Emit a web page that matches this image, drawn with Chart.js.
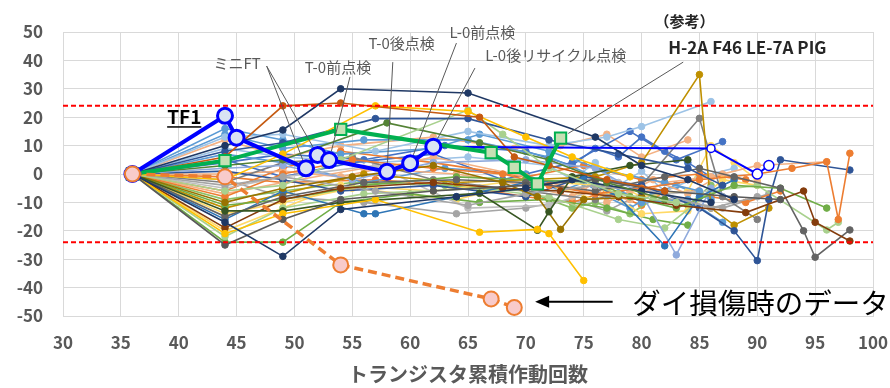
<!DOCTYPE html>
<html>
<head>
<meta charset="utf-8">
<script src="https://cdn.jsdelivr.net/npm/chart.js@4"></script>
<style>
  body { margin: 0; background: #fff; }
  #wrap { width: 890px; height: 388px; }
</style>
</head>
<body>
<div id="wrap"><canvas id="cyclechart" width="890" height="388"></canvas></div>
<script>
// highlighted runs
const tf1 = [[36,0],[44,20.5],[45,12.8],[51,2],[52,6.7],[53,4.9],[58,0.8],[60,3.8],[62,9.6]];
const tf1Tail = [[62,9.6],[86,9],[90,0],[91,3]];
const pig = [[36,0],[44,4.7],[54,15.7],[67,7.5],[69,2.3],[71,-3.5],[73,12.6]];
const dieDamage = [[36,0],[44,-1],[54,-32],[67,-44],[69,-47]];

// allowable band
const limitHigh = 24;
const limitLow = -24;

// other units
const lot01 = [[36,0],[44,10],[49,15.5],[54,30],[65,28.5],[76,13],[80,3],[84,-2],[88,-9]];
const lot02 = [[36,0],[44,6],[49,24],[54,25],[66,20],[69,6],[72,3],[77,-2],[82,-6]];
const lot03 = [[36,0],[44,-2],[49,7],[57,24],[65,22],[70,13],[74,6],[79,-1]];
const lot04 = [[36,0],[44,8],[49,11],[57,19.5],[65,19.5],[72,12],[78,7],[84,2],[87,-4]];
const lot05 = [[36,0],[44,-6],[49,-4],[54,5],[65,22.5],[68,14],[72,2],[78,-7],[83,-10]];
const lot06 = [[36,0],[44,3],[49,5],[58,18],[66,11],[72,5],[77,-3],[82,-9]];
const lot07 = [[36,0],[44,-17],[49,-29],[54,-12.5],[64,-8],[70,-5],[74,-2],[80,-6],[86,-10]];
const lot08 = [[36,0],[44,-25],[49,-16],[54,-9],[62,-6],[70,-4],[76,-2],[82,-6],[88,-8],[92,-9]];
const lot09 = [[36,0],[44,-21],[49,-14],[57,-9],[66,-20.5],[71,-19.5],[72,-21],[75,-37.5]];
const lot10 = [[36,0],[44,-13],[49,-13],[54,-10],[66,-6.8],[71,-19.8],[72,-13.3],[74,-1],[79,3],[84,5]];
const lot11 = [[36,0],[44,-10],[49,-5],[55,-1],[62,3],[68,-3],[71,-8],[73,-19.5],[75,-9],[80,-8]];
const lot12 = [[36,0],[44,-19],[49,-9],[54,-5],[62,-3],[68,-5],[73,-6],[78,-8],[83,-11],[89,-13.6],[94,-6],[95,-17],[98,-23.6]];
const lot13 = [[36,0],[44,-4],[49,-1],[57,-6],[65,-11],[70,-7],[76,-4],[82,-7],[86,-12],[90,-8]];
const lot14 = [[36,0],[44,-15],[49,-8],[56,-3],[64,-2],[70,-3],[76,-6],[82,-1],[85,2],[88,-1],[92,-5],[94,-20],[95,-29.3],[98,-19.7]];
const lot15 = [[36,0],[44,-11],[49,-9],[56,-4],[64,-1],[70,-2],[76,-3],[79,-8],[83,-12],[88,-4],[92,-5],[96,-12]];
const lot16 = [[36,0],[44,-8],[49,0],[55,5],[62,2],[68,0],[72,-4],[76,-7],[80,-5],[85,-2],[90,0],[93,2],[96,4.3],[97,-16],[98,7.3]];
const lot17 = [[36,0],[44,-16],[49,-6],[56,-14],[57,-14],[64,-8],[70,-3],[75,-2],[78,-8],[82,-25.3],[85,-8],[88,-2]];
const lot18 = [[36,0],[44,2],[49,3],[55,-2],[62,4],[70,5],[76,2],[80,-7],[83,-28.5],[86,-5],[88,-9]];
const lot19 = [[36,0],[44,1],[49,-2],[54,-6],[62,-4],[70,-8],[75,-1],[80,-4],[85,-12],[88,-20],[90,-30.5],[91,-9],[92,5],[98,1.4]];
const lot20 = [[36,0],[44,-12],[49,-7],[56,0],[64,-3],[70,-2],[76,-1],[80,4],[85,35],[86,-12],[88,-18],[91,-12]];
const lot21 = [[36,0],[44,13],[49,14],[57,8],[65,15],[72,10],[77,13],[80,16.7],[86,25.5]];
const lot22 = [[36,0],[44,-3],[49,4],[55,6],[62,-2],[70,-6],[76,-9],[80,-4],[85,19.6],[87,-8],[90,-16]];
const lot23 = [[36,0],[44,16],[49,12],[54,7],[62,9],[66,14],[72,8],[77,1],[82,-3],[85,-6]];
const lot24 = [[36,0],[44,0],[49,1],[54,-1],[62,6],[70,-1],[75,-6],[79,-9],[82,-3],[86,-1],[90,3],[96,4.3]];
const lot25 = [[36,0],[44,-22],[49,-12],[56,-7],[66,-5],[72,-8],[78,-16],[82,-19],[86,-6],[90,-4],[96,-19.7],[97,-17]];
const lot26 = [[36,0],[44,-5],[49,-1],[57,3],[65,-12],[72,-11],[78,-3],[82,-7],[86,-6]];
const lot27 = [[36,0],[44,-20],[49,-12],[54,-4],[62,-6],[70,-2],[76,-4],[80,-14],[84,-13],[87,-2],[90,-4]];
const lot28 = [[36,0],[44,-6],[49,2],[54,8],[62,4],[70,-1],[75,3],[80,-2],[85,0],[89,-2]];
const lot29 = [[36,0],[44,5],[49,-1],[55,4],[62,7],[68,-2],[74,4],[79,15],[83,5],[87,11.4]];
const lot30 = [[36,0],[44,14],[49,9],[56,12],[65,12],[72,6],[76,-1],[80,-10],[84,-9],[87,-17]];
const lot31 = [[36,0],[44,-24],[49,-24],[54,-10],[60,-7],[66,-10],[72,-9],[77,-12],[81,-16],[84,-18]];
const lot32 = [[36,0],[44,12],[49,6],[54,10],[62,13],[69,9],[73,10],[77,14],[80,6],[84,12]];
const lot33 = [[36,0],[44,-7],[49,-3],[56,2],[64,0],[70,-4],[74,-8],[76,-3],[77,-10],[79,-6],[81,-2],[84,-7],[87,0],[90,-3]];
const lot34 = [[36,0],[44,9],[49,6],[57,4],[65,6],[72,3],[74,-2],[76,4],[78,-4],[80,1],[82,-6],[85,-1],[88,2]];
const lot35 = [[36,0],[44,-9],[49,-6],[55,-3],[63,-4],[70,-6],[74,-12],[76,-10],[79,-14],[81,-9],[84,-11],[86,-4]];
const lot36 = [[36,0],[44,-14],[49,-10],[55,-5],[64,-9],[70,-3],[73,-5],[76,-9],[78,-4],[80,-8],[84,-6],[86,10],[88,4],[90,-2]];
const lot37 = [[36,0],[44,7],[49,4],[56,-3],[63,2],[70,0],[73,-6],[75,-3],[77,-8],[79,-12],[81,-7],[83,-4],[86,-9]];
const lot38 = [[36,0],[44,-1],[49,-3],[57,-2],[64,-4],[70,-8],[74,-10],[77,-6],[80,-11],[83,-4],[86,-8],[89,-10],[92,-6]];
const lot39 = [[36,0],[44,4],[49,7],[56,5],[63,10],[70,8],[74,3],[76,9],[78,6],[80,13],[82,8],[84,4],[86,-1]];
const lot40 = [[36,0],[44,-2],[49,-8],[56,-10],[64,-14],[70,-12],[74,-9],[77,-13],[80,-7],[84,-10],[87,-12],[91,-7]];

const lotSeries = [lot01,lot02,lot03,lot04,lot05,lot06,lot07,lot08,lot09,lot10,lot11,lot12,lot13,lot14,lot15,lot16,
                   lot17,lot18,lot19,lot20,lot21,lot22,lot23,lot24,lot25,lot26,lot27,lot28,lot29,lot30,lot31,lot32,
                   lot33,lot34,lot35,lot36,lot37,lot38,lot39,lot40];
const lotColors = ['#1F3864','#C55A11','#FFC000','#2F5597','#A9D18E','#548235','#1F3864','#595959',
                   '#FFC000','#375623','#997300','#843C0C','#A5A5A5','#636363','#70AD47','#ED7D31',
                   '#2E75B6','#8FAADC','#2F5597','#BF9000','#9DC3E6','#7F7F7F','#5B9BD5','#F4B183',
                   '#A9D18E','#BFBFBF','#FFD966','#ED7D31','#4472C4','#5B9BD5','#70AD47','#F4B183',
                   '#F4B183','#9DC3E6','#8CC168','#FFD966','#5B9BD5','#ED7D31','#4472C4','#A5A5A5'];

// callouts: text anchor and leader line, all in data units
const callouts = [
  { text: 'ミニFT', at: [43, 39], from: [47.6, 38], to: [tf1[3], tf1[4]] },
  { text: 'T-0前点検', at: [50.9, 37.7], from: [54.8, 34.2], to: [tf1[5]] },
  { text: 'T-0後点検', at: [56.4, 46.1], from: [58.5, 39.4], to: [tf1[6]] },
  { text: 'L-0前点検', at: [63.4, 50], from: [64, 46.1], to: [tf1[7]] },
  { text: 'L-0後リサイクル点検', at: [66.5, 41.9], from: [65.6, 37.3], to: [tf1[8]] },
  { text: '', at: [0, 0], from: [83.6, 39.4], to: [pig[6]] }
];

const toXY = arr => arr.map(p => ({ x: p[0], y: p[1] }));

const datasets = [
  {
    data: toXY(dieDamage), borderColor: '#ED7D31', borderWidth: 3.5, borderDash: [9, 5],
    pointRadius: 7.5, pointBackgroundColor: '#F8CBCB', pointBorderColor: '#ED7D31', pointBorderWidth: 2
  },
  {
    data: toXY(tf1), borderColor: '#0000FF', borderWidth: 4,
    pointRadius: 7.5, pointBackgroundColor: '#DAE3F3', pointBorderColor: '#0000FF', pointBorderWidth: 3
  },
  {
    data: toXY(pig), borderColor: '#00B050', borderWidth: 4, pointStyle: 'rect',
    pointRadius: 8, pointBackgroundColor: '#C5E0B4', pointBorderColor: '#00B050', pointBorderWidth: 2
  },
  {
    data: toXY(tf1Tail), borderColor: '#0000FF', borderWidth: 2,
    pointRadius: [0, 4, 5, 5], pointBackgroundColor: '#FFFFFF', pointBorderColor: '#0000FF', pointBorderWidth: 1.5
  },
  {
    data: [{ x: 30, y: limitHigh }, { x: 100, y: limitHigh }], borderColor: '#FF0000',
    borderWidth: 2, borderDash: [5, 3], pointRadius: 0
  },
  {
    data: [{ x: 30, y: limitLow }, { x: 100, y: limitLow }], borderColor: '#FF0000',
    borderWidth: 2, borderDash: [5, 3], pointRadius: 0
  }
];

lotSeries.forEach((s, i) => {
  datasets.push({
    data: toXY(s), borderColor: lotColors[i], borderWidth: 1.6,
    pointRadius: 3.3, pointBackgroundColor: lotColors[i], pointBorderColor: lotColors[i], pointBorderWidth: 1
  });
});

const calloutPlugin = {
  id: 'callouts',
  afterDatasetsDraw(chart) {
    const { ctx, scales: { x, y } } = chart;
    const px = v => x.getPixelForValue(v);
    const py = v => y.getPixelForValue(v);
    ctx.save();

    // leader lines
    ctx.strokeStyle = '#595959';
    ctx.lineWidth = 1;
    callouts.forEach(c => {
      c.to.forEach(t => {
        const x0 = px(c.from[0]), y0 = py(c.from[1]);
        let x1 = px(t[0]), y1 = py(t[1]);
        const d = Math.hypot(x1 - x0, y1 - y0);
        x1 -= (x1 - x0) / d * 9;
        y1 -= (y1 - y0) / d * 9;
        ctx.beginPath();
        ctx.moveTo(x0, y0);
        ctx.lineTo(x1, y1);
        ctx.stroke();
      });
    });

    ctx.textBaseline = 'middle';
    ctx.textAlign = 'left';
    ctx.fillStyle = '#595959';
    ctx.font = '15px "Noto Sans CJK JP"';
    callouts.forEach(c => {
      if (c.text) ctx.fillText(c.text, px(c.at[0]), py(c.at[1]));
    });

    // reference engine
    ctx.fillStyle = '#262626';
    ctx.font = 'bold 15px "Noto Sans CJK JP"';
    ctx.textAlign = 'center';
    ctx.fillText('（参考）', px(83.7), py(53.6));
    ctx.textAlign = 'left';
    ctx.font = 'bold 17px "Noto Sans CJK JP"';
    ctx.fillText('H-2A F46 LE-7A PIG', px(82.3), py(44.4));

    // TF1 tag, underlined
    ctx.font = 'bold 19px "Noto Sans CJK JP"';
    ctx.fillStyle = '#000000';
    const tx = px(39), ty = py(20);
    ctx.fillText('TF1', tx, ty);
    const w = ctx.measureText('TF1').width;
    ctx.fillRect(tx, ty + 9, w, 1.5);

    // arrow pointing at the die-damage run
    const ax0 = px(77.5), ax1 = px(70.8), ay = py(-45);
    ctx.strokeStyle = '#000000';
    ctx.lineWidth = 2;
    ctx.beginPath();
    ctx.moveTo(ax0, ay);
    ctx.lineTo(ax1 + 10, ay);
    ctx.stroke();
    ctx.beginPath();
    ctx.moveTo(ax1, ay);
    ctx.lineTo(ax1 + 14, ay - 6);
    ctx.lineTo(ax1 + 14, ay + 6);
    ctx.closePath();
    ctx.fill();

    ctx.font = '28.5px "Noto Sans CJK JP"';
    ctx.fillText('ダイ損傷時のデータ', px(79.2), py(-45.4));
    ctx.restore();
  }
};

const tickFont = { family: '"Noto Sans CJK JP"', size: 17, weight: 'bold' };

new Chart('cyclechart', {
  type: 'line',
  data: { datasets: datasets },
  plugins: [calloutPlugin],
  options: {
    responsive: false,
    animation: false,
    layout: { padding: { left: 0, right: 17, top: 32, bottom: 0 } },
    plugins: { legend: { display: false }, tooltip: { enabled: false } },
    elements: { line: { tension: 0, fill: false } },
    scales: {
      x: {
        type: 'linear', min: 30, max: 100,
        ticks: { stepSize: 5, color: '#595959', font: tickFont, padding: 16, maxRotation: 0 },
        grid: { color: '#D9D9D9', drawTicks: false },
        border: { color: '#D9D9D9' },
        title: {
          display: true, text: 'トランジスタ累積作動回数', color: '#595959',
          font: { family: '"Noto Sans CJK JP"', size: 20, weight: 'bold' }, padding: { top: 0, bottom: 2 }
        },
        afterFit: s => { s.height = 72; s.paddingLeft = 0; s.paddingRight = 0; }
      },
      y: {
        min: -50, max: 50,
        ticks: { stepSize: 10, color: '#595959', font: tickFont, padding: 20 },
        grid: { color: '#D9D9D9', drawTicks: false },
        border: { color: '#D9D9D9' },
        afterFit: s => { s.width = 63; }
      }
    }
  }
});
</script>
</body>
</html>
